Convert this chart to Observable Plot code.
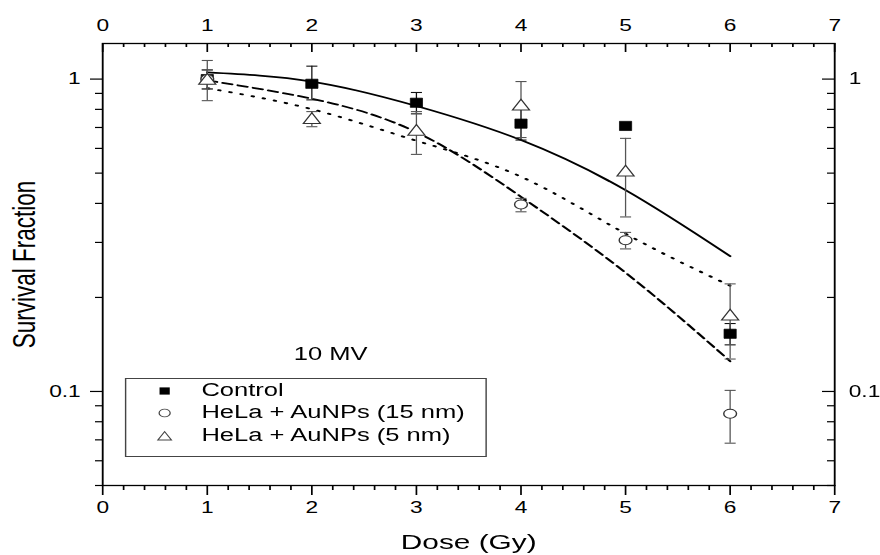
<!DOCTYPE html>
<html><head><meta charset="utf-8">
<script src="https://cdn.jsdelivr.net/npm/d3@7"></script>
<script src="https://cdn.jsdelivr.net/npm/@observablehq/plot@0.6"></script>
<style>
body{margin:0;background:#fff;overflow:hidden}
#wrap{position:relative;width:620px;height:555px;transform-origin:0 0;font-family:"Liberation Sans",Arial,sans-serif;color:#000}
#legend{position:absolute;border:1px solid #444;background:#fff;box-sizing:border-box}
.row{position:absolute;left:0;white-space:nowrap;line-height:1}
.row svg{position:absolute;overflow:visible}
.row span{position:absolute;white-space:nowrap}
</style></head><body>
<div id="wrap"><div id="chart"></div><div id="legend"></div></div>
<script>
// ---- data ----
const doses = [1, 2, 3, 4, 5, 6];
const control   = [1.00, 0.966, 0.840, 0.720, 0.708, 0.153];
const controlLo = [0.930, 0.858, 0.774, 0.638, null, 0.141];
const controlHi = [1.070, 1.100, 0.906, 0.800, null, 0.165];
const np15   = [1.00, null, null, 0.397, 0.305, 0.0849];
const np15Lo = [0.930, null, null, 0.376, 0.286, 0.0683];
const np15Hi = [1.070, null, null, 0.415, 0.323, 0.1008];
const np5   = [1.00, 0.749, 0.687, 0.827, 0.509, 0.176];
const np5Lo = [0.853, 0.704, 0.574, 0.650, 0.362, 0.127];
const np5Hi = [1.147, 0.787, 0.787, 0.982, 0.646, 0.221];
const fitControl = [1.05, 0.982, 0.820, 0.638, 0.441, 0.271];
const fit15      = [0.99, 0.865, 0.676, 0.420, 0.240, 0.125];
const fit5       = [0.935, 0.801, 0.635, 0.487, 0.320, 0.218];
const seriesNames = ["Control", "HeLa + AuNPs (15 nm)", "HeLa + AuNPs (5 nm)"];
const xMajor = [0, 1, 2, 3, 4, 5, 6, 7];
const xMinor = d3.range(0, 35).map(i => i / 5).filter(v => Math.abs(v - Math.round(v)) > 1e-6);
const yMajor = [0.1, 1];
const yMinor = [0.05, 0.06, 0.07, 0.08, 0.09, 0.2, 0.3, 0.4, 0.5, 0.6, 0.7, 0.8, 0.9];
const xLabel = "Dose (Gy)";
const yLabel = "Survival Fraction";
const note = "10 MV";

// ---- layout ----
const W = 880, H = 555, W0 = 620, S = W / W0;   // reference is stretched horizontally
const FONT = '"Liberation Sans", Arial, sans-serif';
const mL = 102 / S, mR = (W - 834) / S, mT = 43, mB = H - 485;
const PW = W0 - mL - mR, PH = H - mT - mB;
document.getElementById("wrap").style.transform = `scaleX(${S})`;

const table = (vals, lo, hi) => doses.map((d, i) => ({dose: d, v: vals[i], lo: lo[i], hi: hi[i]})).filter(d => d.v != null);
const ctrlT = table(control, controlLo, controlHi);
const n15T = table(np15, np15Lo, np15Hi);
const n5T = table(np5, np5Lo, np5Hi);
const fitT = f => doses.map((d, i) => ({dose: d, v: f[i]}));
const caps = t => t.filter(d => d.lo != null).flatMap(d => [{dose: d.dose, y: d.lo}, {dose: d.dose, y: d.hi}]);
const bars = t => t.filter(d => d.lo != null);

const capSym = {draw(c) { c.moveTo(-3.9, 0); c.lineTo(3.9, 0); }};
const sqSym = {draw(c) { c.moveTo(-4.3, -4.6); c.lineTo(4.3, -4.6); c.lineTo(4.3, 4.6); c.lineTo(-4.3, 4.6); c.closePath(); }};
const triSym = {draw(c) { c.moveTo(0, -5.5); c.lineTo(6, 5.2); c.lineTo(-6, 5.2); c.closePath(); }};

const errMarks = (t, col) => [
  Plot.ruleX(bars(t), {x: "dose", y1: "lo", y2: "hi", stroke: col, strokeWidth: 0.9}),
  Plot.dot(caps(t), {x: "dose", y: "y", symbol: capSym, r: 4, stroke: col, fill: "none", strokeWidth: 1.1})
];

const chart = Plot.plot({
  width: W0, height: H,
  marginLeft: mL, marginRight: mR, marginTop: mT, marginBottom: mB,
  style: {fontFamily: FONT, fontSize: "16px", background: "white", color: "black", overflow: "visible"},
  x: {domain: [0, 7]},
  y: {type: "log", domain: [0.05, 1.3]},
  marks: [
    // axes
    Plot.axisX({anchor: "bottom", ticks: xMajor, tickSize: 10, tickPadding: 6.5, tickFormat: "d", fontSize: 16, label: null, strokeWidth: 1.2}),
    Plot.axisX({anchor: "bottom", ticks: xMinor, tickSize: 5, tickFormat: () => "", label: null, strokeWidth: 1.2}),
    Plot.axisX({anchor: "top", ticks: xMajor, tickSize: 0, tickPadding: 13, tickFormat: "d", fontSize: 16, label: null}),
    Plot.tickX(xMajor, {x: d => d, insetBottom: PH - 9, strokeWidth: 1.2}),
    Plot.tickX(xMinor, {x: d => d, insetBottom: PH - 4, strokeWidth: 1.2}),
    Plot.axisY({anchor: "left", ticks: yMajor, tickSize: 12 / S, tickPadding: 10 / S, tickFormat: d => String(d), fontSize: 16, label: null, strokeWidth: 1.2}),
    Plot.axisY({anchor: "left", ticks: yMinor, tickSize: 7 / S, tickFormat: () => "", label: null, strokeWidth: 1.2}),
    Plot.axisY({anchor: "right", ticks: yMajor, tickSize: 0, tickPadding: 14 / S, tickFormat: d => String(d), fontSize: 16, label: null}),
    Plot.tickY(yMajor, {y: d => d, insetLeft: PW - 12 / S, strokeWidth: 1.2}),
    Plot.tickY(yMinor, {y: d => d, insetLeft: PW - 7 / S, strokeWidth: 1.2}),
    Plot.frame({strokeWidth: 1.3}),
    // labels
    Plot.text([yLabel], {text: d => d, frameAnchor: "left", dx: -(102 - 24) / S, rotate: -90, textAnchor: "middle", lineAnchor: "middle", fontSize: 22.5}),
    Plot.text([xLabel], {text: d => d, frameAnchor: "bottom", dy: 57, textAnchor: "middle", lineAnchor: "middle", fontSize: 21}),
    Plot.text([note], {text: d => d, frameAnchor: "top-left", dx: (293 - 102) / S, dy: 354 - 43, textAnchor: "start", lineAnchor: "middle", fontSize: 18}),
    // fitted curves
    Plot.line(fitT(fitControl), {x: "dose", y: "v", curve: "natural", stroke: "black", strokeWidth: 1.8}),
    Plot.line(fitT(fit15), {x: "dose", y: "v", curve: "natural", stroke: "black", strokeWidth: 1.8, strokeDasharray: "7,4"}),
    Plot.line(fitT(fit5), {x: "dose", y: "v", curve: "natural", stroke: "black", strokeWidth: 1.9, strokeDasharray: "1.3,6.8"}),
    // error bars
    ...errMarks(ctrlT, "#111"),
    ...errMarks(n15T, "#555"),
    ...errMarks(n5T, "#555"),
    // markers
    Plot.dot(ctrlT, {x: "dose", y: "v", symbol: sqSym, r: 4, fill: "black", stroke: "black", strokeWidth: 0.6}),
    Plot.dot(n15T, {x: "dose", y: "v", r: 4.5, fill: "white", stroke: "#333", strokeWidth: 1}),
    Plot.dot(n5T, {x: "dose", y: "v", symbol: triSym, r: 4, fill: "white", stroke: "#333", strokeWidth: 1})
  ]
});
document.getElementById("chart").append(chart);

// ---- legend (inside plot area, HTML overlay) ----
const lg = document.getElementById("legend");
const boxL = 125, boxT = 378, boxR = 487, boxB = 457;
Object.assign(lg.style, {left: boxL / S + "px", top: boxT + "px", width: (boxR - boxL) / S + "px", height: (boxB - boxT) + "px"});
const rowY = [391, 413, 436];
const symSvg = [
  '<rect x="-3.6" y="-3.6" width="7.2" height="7.2" fill="#000"/>',
  '<circle r="3.9" fill="#fff" stroke="#444" stroke-width="0.9"/>',
  '<path d="M0,-4.4L4.8,4L-4.8,4Z" fill="#fff" stroke="#444" stroke-width="0.9"/>'
];
seriesNames.forEach((name, i) => {
  const r = document.createElement("div");
  r.className = "row";
  r.style.top = (rowY[i] - boxT - 1) + "px";
  r.innerHTML = `<svg width="1" height="1" style="left:${(163 - boxL) / S}px;top:0">${symSvg[i]}</svg>` +
    `<span style="left:${(200 - boxL) / S}px;top:-10px;font-size:18px">${name}</span>`;
  lg.append(r);
});
</script>
</body></html>
